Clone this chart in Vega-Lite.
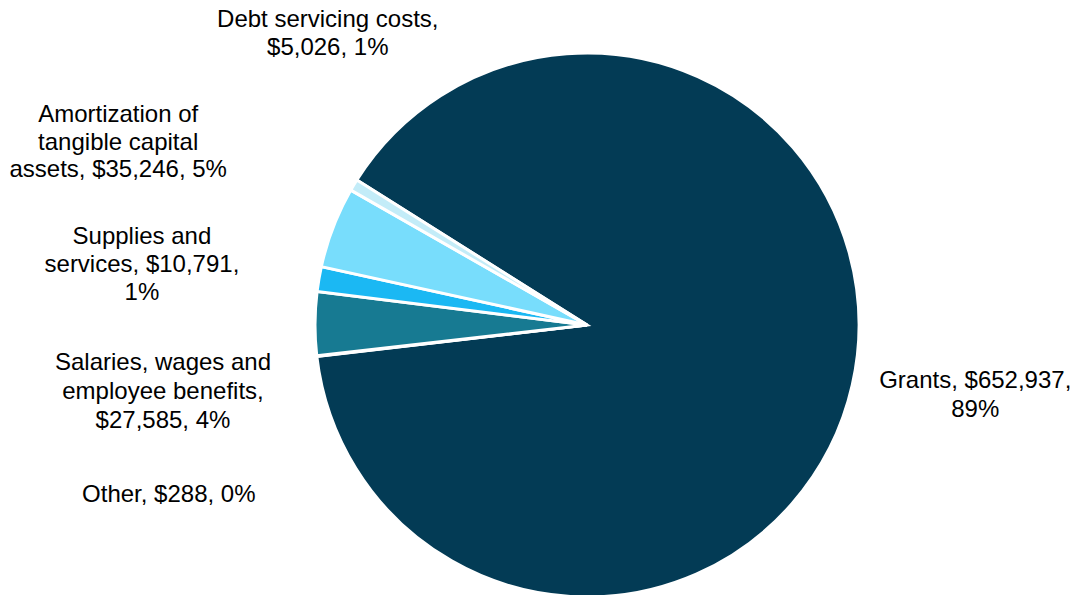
{
  "$schema": "https://vega.github.io/schema/vega-lite/v6.json",
  "autosize": "none",
  "width": 970,
  "height": 540,
  "padding": {"left": 102, "top": 55, "right": 0, "bottom": 0},
  "background": "white",
  "config": {"view": {"stroke": null}},
  "data": {
    "values": [
      {"category": "Grants", "amount": 652937, "order": 1, "label": "Grants, $652,937,\n89%"},
      {"category": "Other", "amount": 288, "order": 2, "label": "Other, $288, 0%"},
      {"category": "Salaries, wages and employee benefits", "amount": 27585, "order": 3, "label": "Salaries, wages and\nemployee benefits,\n$27,585, 4%"},
      {"category": "Supplies and services", "amount": 10791, "order": 4, "label": "Supplies and\nservices, $10,791,\n1%"},
      {"category": "Amortization of tangible capital assets", "amount": 35246, "order": 5, "label": "Amortization of\ntangible capital\nassets, $35,246, 5%"},
      {"category": "Debt servicing costs", "amount": 5026, "order": 6, "label": "Debt servicing costs,\n$5,026, 1%"}
    ]
  },
  "layer": [
    {
      "mark": {"type": "arc", "outerRadius": 272, "stroke": "white", "strokeWidth": 3},
      "encoding": {
        "theta": {"field": "amount", "type": "quantitative", "stack": true, "scale": {"range": [5.2744, 11.5576]}},
        "order": {"field": "order", "type": "quantitative"},
        "color": {
          "field": "category",
          "type": "nominal",
          "scale": {
            "domain": ["Grants", "Other", "Salaries, wages and employee benefits", "Supplies and services", "Amortization of tangible capital assets", "Debt servicing costs"],
            "range": ["#033B55", "#7F7F7F", "#177A92", "#1BB8F3", "#78DDFC", "#C3ECF8"]
          },
          "legend": null
        }
      }
    },
    {
      "mark": {"type": "text", "radius": 272, "dx": 123, "dy": -4, "align": "center", "baseline": "middle", "fontSize": 24, "font": "Liberation Sans", "lineHeight": 29, "lineBreak": "\n", "fill": "#000000"},
      "encoding": {
        "theta": {"field": "amount", "type": "quantitative", "stack": true},
        "order": {"field": "order", "type": "quantitative"},
        "text": {"condition": {"test": "datum.category === 'Grants'", "field": "label", "type": "nominal"}, "value": ""}
      }
    },
    {
      "mark": {"type": "text", "radius": 272, "dx": -148, "dy": 139, "align": "center", "baseline": "middle", "fontSize": 24, "font": "Liberation Sans", "lineHeight": 29, "lineBreak": "\n", "fill": "#000000"},
      "encoding": {
        "theta": {"field": "amount", "type": "quantitative", "stack": true},
        "order": {"field": "order", "type": "quantitative"},
        "text": {"condition": {"test": "datum.category === 'Other'", "field": "label", "type": "nominal"}, "value": ""}
      }
    },
    {
      "mark": {"type": "text", "radius": 272, "dx": -152, "dy": 39, "align": "center", "baseline": "middle", "fontSize": 24, "font": "Liberation Sans", "lineHeight": 29, "lineBreak": "\n", "fill": "#000000"},
      "encoding": {
        "theta": {"field": "amount", "type": "quantitative", "stack": true},
        "order": {"field": "order", "type": "quantitative"},
        "text": {"condition": {"test": "datum.category === 'Salaries, wages and employee benefits'", "field": "label", "type": "nominal"}, "value": ""}
      }
    },
    {
      "mark": {"type": "text", "radius": 272, "dx": -177, "dy": -42, "align": "center", "baseline": "middle", "fontSize": 24, "font": "Liberation Sans", "lineHeight": 28, "lineBreak": "\n", "fill": "#000000"},
      "encoding": {
        "theta": {"field": "amount", "type": "quantitative", "stack": true},
        "order": {"field": "order", "type": "quantitative"},
        "text": {"condition": {"test": "datum.category === 'Supplies and services'", "field": "label", "type": "nominal"}, "value": ""}
      }
    },
    {
      "mark": {"type": "text", "radius": 272, "dx": -215, "dy": -112, "align": "center", "baseline": "middle", "fontSize": 24, "font": "Liberation Sans", "lineHeight": 27.5, "lineBreak": "\n", "fill": "#000000"},
      "encoding": {
        "theta": {"field": "amount", "type": "quantitative", "stack": true},
        "order": {"field": "order", "type": "quantitative"},
        "text": {"condition": {"test": "datum.category === 'Amortization of tangible capital assets'", "field": "label", "type": "nominal"}, "value": ""}
      }
    },
    {
      "mark": {"type": "text", "radius": 272, "dx": -26, "dy": -165, "align": "center", "baseline": "middle", "fontSize": 24, "font": "Liberation Sans", "lineHeight": 28, "lineBreak": "\n", "fill": "#000000"},
      "encoding": {
        "theta": {"field": "amount", "type": "quantitative", "stack": true},
        "order": {"field": "order", "type": "quantitative"},
        "text": {"condition": {"test": "datum.category === 'Debt servicing costs'", "field": "label", "type": "nominal"}, "value": ""}
      }
    }
  ]
}
